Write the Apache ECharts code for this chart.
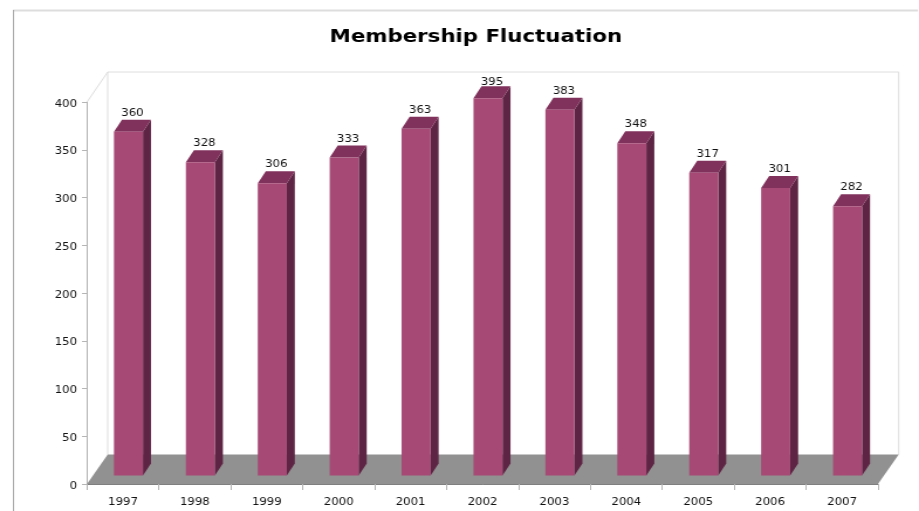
<!DOCTYPE html>
<html>
<head>
<meta charset="utf-8">
<style>html,body{margin:0;padding:0;background:#fff;overflow:hidden}
#c{width:785px;height:511px;transform-origin:0 0;transform:scaleX(1.17070)}</style>
<script src="https://cdn.jsdelivr.net/npm/echarts@6/dist/echarts.min.js"></script>
</head>
<body>
<div id="c"></div>
<script>
var categories = ['1997','1998','1999','2000','2001','2002','2003','2004','2005','2006','2007'];
var members = [360,328,306,333,363,395,383,348,317,301,282];
var yTicks = {min:0, max:400, interval:50};
var titleText = 'Membership Fluctuation';

var FONT = '"DejaVu Sans", Verdana, sans-serif';
var K = 919/785;                     // the reference is stretched sideways
function sx(v){ return v/K; }
var floorDX = sx(20.7), floorDY = 29.5;  // depth of the floor and walls
var barDX = sx(8), barDY = 12;           // depth of each bar
var barLift = 8.5, barW = sx(29);        // bar base sits up the floor

var chart = echarts.init(document.getElementById('c'), null, {renderer:'canvas'});

function renderRoom(params, api){
  var r = params.coordSys, L = r.x, T = r.y, R = r.x + r.width, B = r.y + r.height;
  var wall = {stroke:'#dedede', lineWidth:1, fill:null};
  return {type:'group', silent:true, children:[
    {type:'polyline', shape:{points:[[L+floorDX,B-floorDY],[L+floorDX,T-floorDY-.5],[R+floorDX,T-floorDY-.5],[R+floorDX,B-floorDY]]}, style:wall},
    {type:'line', shape:{x1:L,y1:T,x2:L+floorDX,y2:T-floorDY-.5}, style:{stroke:'#dedede',lineWidth:1}},
    {type:'polygon', shape:{points:[[L,B],[L+floorDX,B-floorDY],[R+floorDX,B-floorDY],[R,B]]}, style:{fill:'#919191'}}
  ]};
}

function renderBar(params, api){
  var p = api.coord([api.value(0), api.value(1)]);
  var zero = api.coord([api.value(0), 0]);
  var x0 = p[0] - sx(9), x1 = x0 + barW, top = p[1] - barLift, base = zero[1] - barLift;
  var labelY = Math.max(top - barDY - 6.5, 82);
  return {type:'group', children:[
    {type:'polygon', shape:{points:[[x1,top],[x1+barDX,top-barDY],[x1+barDX,base-barDY],[x1,base]]}, style:{fill:'#5e2444'}},
    {type:'polygon', shape:{points:[[x0,top],[x0+barDX,top-barDY],[x1+barDX,top-barDY],[x1,top]]}, style:{fill:'#80325c'}},
    {type:'rect', shape:{x:x0,y:top,width:barW,height:base-top}, style:{fill:'#a64975'}},
    {type:'text', style:{text:String(api.value(1)), x:x0+barW/2+sx(4), y:labelY, align:'center', verticalAlign:'middle', font:'10px '+FONT, fill:'#111'}}
  ]};
}

chart.setOption({
  animation:false,
  backgroundColor:'#fff',
  title:{text:titleText, left:sx(470), top:20, textAlign:'center', textStyle:{fontFamily:FONT, fontWeight:'bold', fontSize:18.2, color:'#000', lineHeight:24}},
  grid:{left:sx(87), right:sx(41), top:102, bottom:27, containLabel:false},
  xAxis:{type:'category', data:categories, boundaryGap:true,
    axisLine:{show:true,lineStyle:{color:'#7f7f7f',width:1}},
    axisTick:{show:true,alignWithLabel:false,length:6,lineStyle:{color:'#b5b5b5'}},
    axisLabel:{fontFamily:FONT,fontSize:10,color:'#111',margin:13,interval:0},
    splitLine:{show:false}},
  yAxis:{type:'value', min:yTicks.min, max:yTicks.max, interval:yTicks.interval,
    axisLine:{show:true,lineStyle:{color:'#b5b5b5',width:1}},
    axisTick:{show:true,length:sx(5),lineStyle:{color:'#b5b5b5'}},
    axisLabel:{fontFamily:FONT,fontSize:10,color:'#111',margin:sx(10),verticalAlign:'top',lineHeight:4},
    splitLine:{show:false}},
  graphic:[
    {type:'line', silent:true, z:-1, shape:{x1:sx(13),y1:10.5,x2:sx(918),y2:10.5}, style:{stroke:'#dddddd',lineWidth:2}},
    {type:'line', silent:true, z:-1, shape:{x1:sx(13.5),y1:10,x2:sx(13.5),y2:511}, style:{stroke:'#a8a8a8',lineWidth:1}}
  ],
  series:[
    {type:'custom', name:'room', data:[0], renderItem:renderRoom, clip:false, silent:true, z:1, encode:{x:0,y:0}},
    {type:'custom', name:'Members', data:categories.map(function(c,i){return [i,members[i]];}), renderItem:renderBar, clip:false, z:2, encode:{x:0,y:1}}
  ]
});
</script>
</body>
</html>
